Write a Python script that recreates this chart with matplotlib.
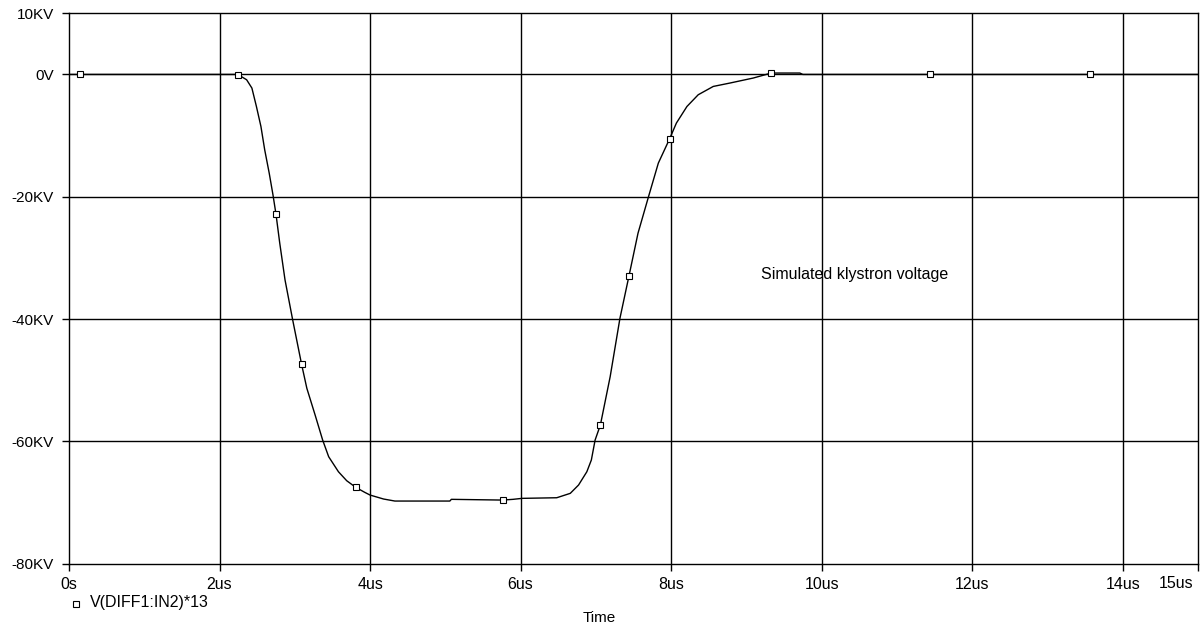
import matplotlib.pyplot as plt
from matplotlib.lines import Line2D

# Courbe (temps en us, tension en kV)
temps = [0.0, 2.20, 2.25, 2.36, 2.43, 2.49, 2.55, 2.60, 2.66, 2.71, 2.75, 2.80,
         2.87, 2.97, 3.09, 3.16, 3.27, 3.37, 3.45, 3.58, 3.69, 3.81, 3.93, 4.00,
         4.18, 4.33, 5.06, 5.08, 5.76, 5.90, 6.02, 6.48, 6.66, 6.77, 6.88, 6.94,
         6.99, 7.06, 7.19, 7.32, 7.44, 7.56, 7.70, 7.83, 7.98, 8.07, 8.21, 8.36,
         8.56, 8.78, 9.09, 9.33, 9.71, 9.75, 15.0]
tension = [0.0, 0.0, -0.05, -0.87, -2.23, -5.24, -8.51, -12.32, -16.14, -19.69, -22.85, -27.59,
           -33.60, -40.03, -47.40, -51.33, -55.70, -59.79, -62.52, -64.98, -66.45, -67.53, -68.35, -68.79,
           -69.44, -69.77, -69.77, -69.49, -69.61, -69.49, -69.33, -69.23, -68.51, -67.15, -64.98, -63.06,
           -59.79, -57.33, -49.43, -39.87, -32.95, -25.96, -19.97, -14.50, -10.52, -7.95, -5.24, -3.32,
           -1.96, -1.41, -0.59, 0.23, 0.23, 0.0, 0.0]

# Marqueurs carrés de la trace
marq_temps = [0.15, 2.25, 2.75, 3.09, 3.81, 5.76, 7.06, 7.44, 7.98, 9.33, 11.44, 13.56]
marq_tension = [0.0, -0.05, -22.85, -47.40, -67.53, -69.61, -57.33, -32.95, -10.52, 0.23, 0.0, 0.0]

x_ticks = [0, 2, 4, 6, 8, 10, 12, 14, 15]
x_labels = ['0s', '2us', '4us', '6us', '8us', '10us', '12us', '14us', '']
y_ticks = [10, 0, -20, -40, -60, -80]
y_labels = ['10KV', '0V', '-20KV', '-40KV', '-60KV', '-80KV']

plt.rcParams['font.family'] = ['Liberation Sans', 'DejaVu Sans']

fig = plt.figure(figsize=(12, 6.32), dpi=100)
ax = fig.add_axes([69 / 1200, 1 - 563.6 / 632, (1198 - 69) / 1200, (563.6 - 13.3) / 632])

ax.plot(temps, tension, color='black', lw=1.0, zorder=3)
ax.plot(marq_temps, marq_tension, ls='none', marker='s', ms=5, mfc='white',
        mec='black', mew=0.8, zorder=4)

ax.set_xlim(0, 15)
ax.set_ylim(-80, 10)
ax.set_xticks(x_ticks)
ax.set_xticklabels(x_labels, fontsize=11.5)
ax.set_yticks(y_ticks)
ax.set_yticklabels(y_labels, fontsize=11)
ax.tick_params(direction='out', length=5, width=1, pad=5, color='black')
ax.tick_params(axis='y', pad=6)

# grille
for v in [0, -20, -40, -60]:
    ax.axhline(v, color='black', lw=1.0, zorder=1)
for t in [2, 4, 6, 8, 10, 12, 14]:
    ax.axvline(t, color='black', lw=1.0, zorder=1)
for s in ax.spines.values():
    s.set_linewidth(1.0)

# dernière étiquette décalée à gauche
fig.text(1176 / 1200, 1 - 583 / 632, '15us', fontsize=11.5, ha='center', va='center')

ax.text(9.19, -32.8, 'Simulated klystron voltage', fontsize=11.5, ha='left', va='center')

# légende
fig.add_artist(Line2D([76 / 1200], [1 - 604 / 632], marker='s', ms=5, mfc='white',
                      mec='black', mew=0.8, ls='none', transform=fig.transFigure))
fig.text(90 / 1200, 1 - 602 / 632, 'V(DIFF1:IN2)*13', fontsize=11.5, ha='left', va='center')
fig.text(599 / 1200, 1 - 618 / 632, 'Time', fontsize=11, ha='center', va='center')

fig.savefig('out.png', dpi=100)
